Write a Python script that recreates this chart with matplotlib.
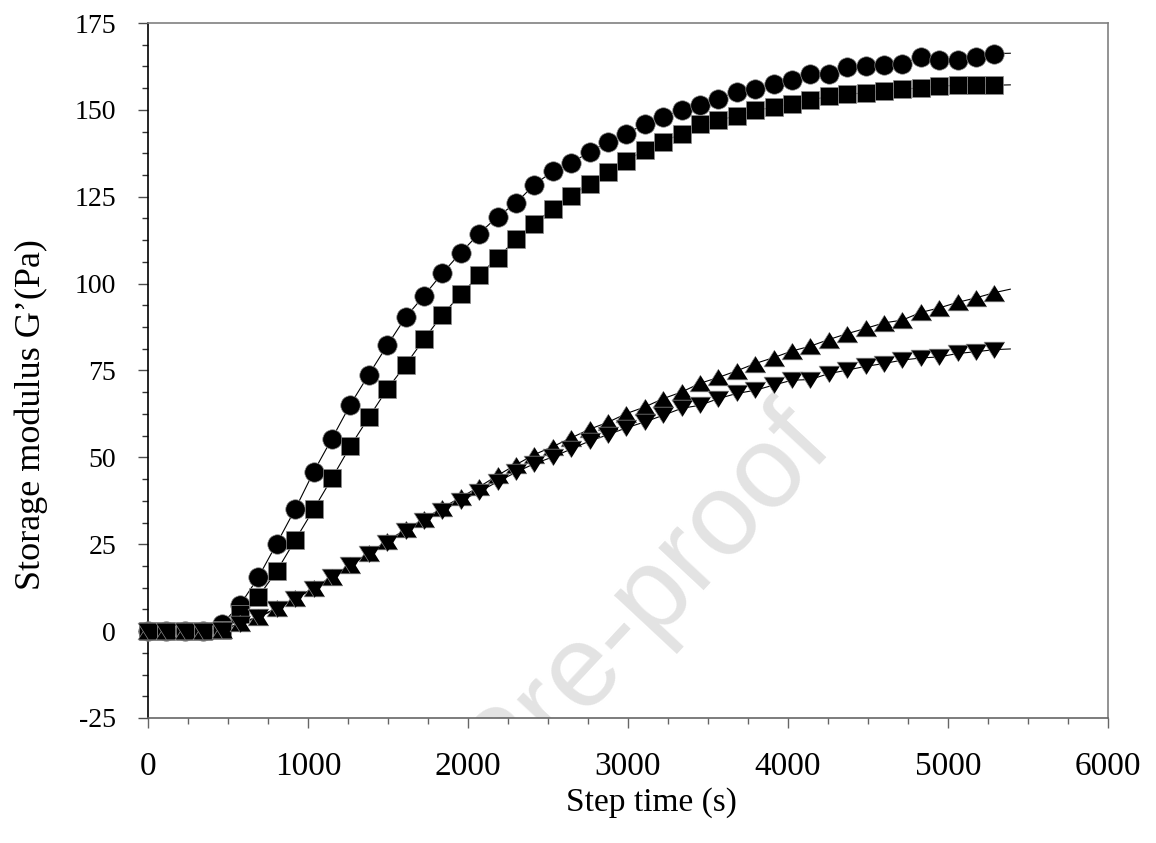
import numpy as np
import matplotlib
matplotlib.use('Agg')
import matplotlib.pyplot as plt
from matplotlib.ticker import MultipleLocator

plt.rcParams['font.family'] = ['Liberation Serif', 'DejaVu Serif']
plt.rcParams['axes.unicode_minus'] = False

# step time (s)
t = [0, 115, 230, 345, 460, 575, 690, 805, 920, 1035, 1150, 1265, 1380, 1495,
     1610, 1725, 1840, 1955, 2070, 2185, 2300, 2415, 2530, 2645, 2760, 2875,
     2990, 3105, 3220, 3335, 3450, 3565, 3680, 3795, 3910, 4025, 4140, 4255,
     4370, 4485, 4600, 4715, 4830, 4945, 5060, 5175, 5290]
t_end = 5390

g_circle = [0, 0, 0, 0, 2.0, 7.5, 15.5, 25.2, 35.1, 45.8, 55.4, 65.2, 73.8, 82.2,
            90.3, 96.5, 103.0, 108.9, 114.4, 119.3, 123.2, 128.5, 132.3, 134.7,
            137.9, 140.8, 143.2, 145.9, 148.0, 149.9, 151.3, 153.2, 155.2, 156.1,
            157.4, 158.5, 160.2, 160.4, 162.3, 162.6, 163.0, 163.3, 165.2, 164.3,
            164.3, 165.2, 166.2]
g_square = [0, 0, 0, 0, 0.3, 5.0, 9.9, 17.3, 26.2, 35.0, 44.0, 53.2, 61.5, 69.6,
            76.6, 84.0, 91.0, 96.9, 102.4, 107.5, 112.7, 117.3, 121.6, 125.2,
            128.8, 132.1, 135.4, 138.4, 140.8, 143.2, 145.9, 147.0, 148.3, 149.9,
            150.7, 151.8, 152.8, 153.9, 154.5, 154.9, 155.4, 156.0, 156.3, 156.8,
            157.1, 157.1, 157.1]
g_up = [0, 0, 0, 0, 0.3, 2.3, 4.2, 6.6, 9.5, 12.4, 15.7, 19.1, 22.5, 25.9, 29.3,
        32.2, 35.5, 38.5, 41.5, 44.8, 47.9, 50.8, 53.1, 55.6, 58.1, 60.1, 62.6,
        64.5, 66.9, 68.8, 71.3, 73.0, 74.9, 77.0, 78.7, 80.6, 82.0, 83.9, 85.6,
        87.1, 88.7, 89.5, 91.7, 93.0, 94.6, 95.9, 97.4]
g_down = [0, 0, 0, 0, 0.3, 2.1, 4.0, 6.4, 9.3, 12.2, 15.5, 18.9, 22.3, 25.5, 28.9,
          31.6, 34.7, 37.5, 40.1, 43.0, 45.7, 48.2, 50.1, 52.4, 54.7, 56.5, 58.5,
          60.2, 62.1, 64.1, 65.0, 66.9, 68.4, 69.3, 70.8, 72.2, 72.4, 74.1, 75.1,
          76.2, 77.0, 78.0, 78.6, 78.9, 79.9, 80.4, 81.0]
# fitted curve values at the end of the run
tail = {'circle': 166.3, 'square': 157.2, 'up': 98.4, 'down': 81.2}

tri_up = [(0, 0.8), (-1, -0.8), (1, -0.8)]
tri_down = [(0, -0.8), (-1, 0.8), (1, 0.8)]

fig = plt.figure(figsize=(11.56, 8.43), dpi=100)
ax = fig.add_axes([0.128, 0.1483, 0.8304, 0.8244])

# watermark (clipped to the plot area like in the original)
ax.text(4160, 58.5, 'Journal Pre-proof', rotation=47, ha='right',
        va='center', rotation_mode='anchor', fontsize=84,
        family='Liberation Sans', color='#e3e3e3', zorder=0, clip_on=True)

series = [
    (g_circle, 'o', 14, tail['circle']),
    (g_square, 's', 13.5, tail['square']),
    (g_up, tri_up, 15, tail['up']),
    (g_down, tri_down, 15, tail['down']),
]
for vals, mk, ms, end in series:
    ax.plot(t + [t_end], vals + [end], color='k', lw=0.8, zorder=2)
    ax.plot(t, vals, linestyle='none', marker=mk, ms=ms, mfc='k',
            mec='0.55', mew=0.5, clip_on=False, zorder=3)

ax.set_xlim(0, 6000)
ax.set_ylim(-25, 175)
ax.xaxis.set_major_locator(MultipleLocator(1000))
ax.xaxis.set_minor_locator(MultipleLocator(250))
ax.yaxis.set_major_locator(MultipleLocator(25))
ax.yaxis.set_minor_locator(MultipleLocator(6.25))

ax.tick_params(axis='x', which='major', direction='out', length=7, width=1,
               color='0.4', labelsize=24, pad=17)
ax.tick_params(axis='x', which='minor', direction='out', length=4, width=1,
               color='0.4')
ax.tick_params(axis='y', which='major', direction='out', length=7, width=1,
               color='0.3', labelsize=20, pad=16)
ax.tick_params(axis='y', which='minor', direction='out', length=4, width=1,
               color='0.2')
ax.tick_params(top=False, right=False)

ax.spines['left'].set_color('k')
ax.spines['bottom'].set_color('0.4')
ax.spines['top'].set_color('0.5')
ax.spines['right'].set_color('0.5')
for s in ax.spines.values():
    s.set_linewidth(1.2)

ax.set_xlabel('Step time (s)', fontsize=24)
ax.set_ylabel('Storage modulus G\u2019(Pa)', fontsize=26)
ax.xaxis.set_label_coords(0.524, -0.1)
ax.yaxis.set_label_coords(-0.104, 0.436)

fig.savefig('out.png', dpi=100)
